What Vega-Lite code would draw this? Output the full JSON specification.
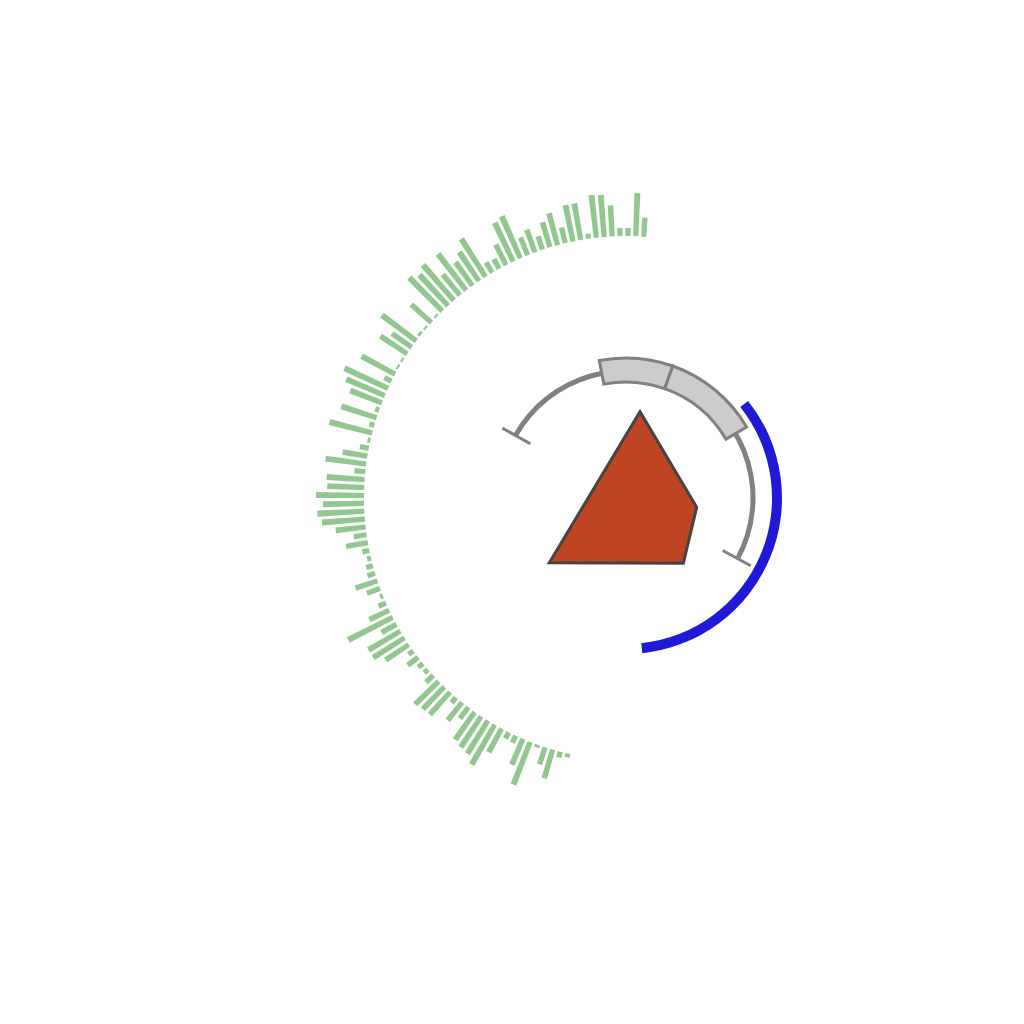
{
  "$schema": "https://vega.github.io/schema/vega-lite/v6.json",
  "background": "white",
  "autosize": {"type": "none"},
  "padding": {"left": 326, "top": 198, "right": 98, "bottom": 226},
  "width": 600,
  "height": 600,
  "config": {"view": {"stroke": null}},
  "datasets": {
    "bars": [
      {"angle": 192.80, "len": 4}, {"angle": 194.53, "len": 6}, {"angle": 196.26, "len": 30}, {"angle": 197.98, "len": 18},
      {"angle": 199.71, "len": 3}, {"angle": 201.44, "len": 46}, {"angle": 203.17, "len": 28}, {"angle": 204.90, "len": 8},
      {"angle": 206.62, "len": 7}, {"angle": 208.35, "len": 27}, {"angle": 210.08, "len": 46}, {"angle": 211.81, "len": 39},
      {"angle": 213.54, "len": 37}, {"angle": 215.26, "len": 34}, {"angle": 216.99, "len": 14}, {"angle": 218.72, "len": 23},
      {"angle": 220.45, "len": 7}, {"angle": 222.18, "len": 30}, {"angle": 223.90, "len": 31}, {"angle": 225.63, "len": 33},
      {"angle": 227.36, "len": 10}, {"angle": 229.09, "len": 5}, {"angle": 230.82, "len": 6}, {"angle": 232.54, "len": 13},
      {"angle": 234.27, "len": 6}, {"angle": 236.00, "len": 28}, {"angle": 237.73, "len": 37}, {"angle": 239.46, "len": 37},
      {"angle": 241.18, "len": 17}, {"angle": 242.91, "len": 50}, {"angle": 244.64, "len": 22}, {"angle": 246.37, "len": 8},
      {"angle": 248.10, "len": 3}, {"angle": 249.82, "len": 14}, {"angle": 251.55, "len": 23}, {"angle": 253.28, "len": 8},
      {"angle": 255.01, "len": 7}, {"angle": 256.74, "len": 4}, {"angle": 258.46, "len": 7}, {"angle": 260.19, "len": 22},
      {"angle": 261.92, "len": 13}, {"angle": 263.65, "len": 30}, {"angle": 265.38, "len": 43}, {"angle": 267.10, "len": 47},
      {"angle": 268.83, "len": 41}, {"angle": 270.56, "len": 48}, {"angle": 272.29, "len": 37}, {"angle": 274.02, "len": 38},
      {"angle": 275.74, "len": 11}, {"angle": 277.47, "len": 41}, {"angle": 279.20, "len": 25}, {"angle": 280.93, "len": 9},
      {"angle": 282.66, "len": 3}, {"angle": 284.38, "len": 44}, {"angle": 286.11, "len": 5}, {"angle": 287.84, "len": 37},
      {"angle": 289.57, "len": 4}, {"angle": 291.30, "len": 34}, {"angle": 293.02, "len": 42}, {"angle": 294.75, "len": 48},
      {"angle": 296.48, "len": 8}, {"angle": 298.21, "len": 38}, {"angle": 299.94, "len": 2}, {"angle": 301.66, "len": 2},
      {"angle": 303.39, "len": 32}, {"angle": 305.12, "len": 24}, {"angle": 306.85, "len": 43}, {"angle": 308.58, "len": 3},
      {"angle": 310.30, "len": 2}, {"angle": 312.03, "len": 27}, {"angle": 313.76, "len": 2}, {"angle": 315.49, "len": 47},
      {"angle": 317.22, "len": 42}, {"angle": 318.94, "len": 47}, {"angle": 320.67, "len": 27}, {"angle": 322.40, "len": 46},
      {"angle": 324.13, "len": 29}, {"angle": 325.86, "len": 35}, {"angle": 327.58, "len": 45}, {"angle": 329.31, "len": 12},
      {"angle": 331.04, "len": 11}, {"angle": 332.77, "len": 23}, {"angle": 334.50, "len": 43}, {"angle": 336.22, "len": 46},
      {"angle": 337.95, "len": 19}, {"angle": 339.68, "len": 24}, {"angle": 341.41, "len": 14}, {"angle": 343.14, "len": 26},
      {"angle": 344.86, "len": 33}, {"angle": 346.59, "len": 16}, {"angle": 348.32, "len": 37}, {"angle": 350.05, "len": 37},
      {"angle": 351.78, "len": 5}, {"angle": 353.50, "len": 43}, {"angle": 355.23, "len": 42}, {"angle": 356.96, "len": 31},
      {"angle": 358.69, "len": 8}, {"angle": 360.42, "len": 8}, {"angle": 362.14, "len": 43}, {"angle": 363.87, "len": 19}
    ]
  },
  "layer": [
    {
      "data": {"name": "bars"},
      "transform": [
        {"calculate": "datum.angle - 0.56", "as": "a0"},
        {"calculate": "datum.angle + 0.56", "as": "a1"},
        {"calculate": "262 + datum.len", "as": "r1"}
      ],
      "mark": {"type": "arc", "color": "#92c88f"},
      "encoding": {
        "theta": {"field": "a0", "type": "quantitative", "scale": {"domain": [0, 360], "range": [0, 6.283185307], "zero": false, "nice": false}},
        "theta2": {"field": "a1"},
        "radius": {"field": "r1", "type": "quantitative", "scale": {"type": "linear", "domain": [0, 300], "range": [0, 300], "zero": true, "nice": false}},
        "radius2": {"datum": 262}
      }
    },
    {
      "data": {"values": [{"a0": -60.5, "a1": 118.5, "r0": 124.5, "r1": 129.5}]},
      "mark": {"type": "arc", "color": "#808080"},
      "encoding": {
        "theta": {"field": "a0", "type": "quantitative"},
        "theta2": {"field": "a1"},
        "radius": {"field": "r1", "type": "quantitative"},
        "radius2": {"field": "r0"}
      }
    },
    {
      "data": {"values": [
        {"x": -95.7, "y": 54.2, "x2": -123.6, "y2": 69.9},
        {"x": 96.7, "y": -52.5, "x2": 124.8, "y2": -67.8}
      ]},
      "mark": {"type": "rule", "color": "#808080", "strokeWidth": 3},
      "encoding": {
        "x": {"field": "x", "type": "quantitative", "scale": {"domain": [-300, 300], "nice": false, "zero": false}, "axis": null},
        "y": {"field": "y", "type": "quantitative", "scale": {"domain": [-300, 300], "nice": false, "zero": false}, "axis": null},
        "x2": {"field": "x2"},
        "y2": {"field": "y2"}
      }
    },
    {
      "data": {"values": [
        {"a0": -11, "a1": 19.5, "r0": 116, "r1": 140},
        {"a0": 19.5, "a1": 59.5, "r0": 116, "r1": 140}
      ]},
      "mark": {"type": "arc", "fill": "#cccccc", "stroke": "#808080", "strokeWidth": 3},
      "encoding": {
        "theta": {"field": "a0", "type": "quantitative"},
        "theta2": {"field": "a1"},
        "radius": {"field": "r1", "type": "quantitative"},
        "radius2": {"field": "r0"}
      }
    },
    {
      "data": {"values": [{"a0": 51.5, "a1": 174, "r0": 146, "r1": 156}]},
      "mark": {"type": "arc", "color": "#201ad6"},
      "encoding": {
        "theta": {"field": "a0", "type": "quantitative"},
        "theta2": {"field": "a1"},
        "radius": {"field": "r1", "type": "quantitative"},
        "radius2": {"field": "r0"}
      }
    },
    {
      "data": {"values": [
        {"i": 0, "x": 14, "y": 86.3},
        {"i": 1, "x": 70.7, "y": -9.3},
        {"i": 2, "x": 57.3, "y": -65.3},
        {"i": 3, "x": -76.7, "y": -64.7},
        {"i": 4, "x": 14, "y": 86.3},
        {"i": 5, "x": 70.7, "y": -9.3}
      ]},
      "mark": {"type": "line", "fill": "#bf4424", "stroke": "#444444", "strokeWidth": 3, "strokeJoin": "miter"},
      "encoding": {
        "x": {"field": "x", "type": "quantitative"},
        "y": {"field": "y", "type": "quantitative"},
        "order": {"field": "i", "type": "quantitative"}
      }
    }
  ]
}
